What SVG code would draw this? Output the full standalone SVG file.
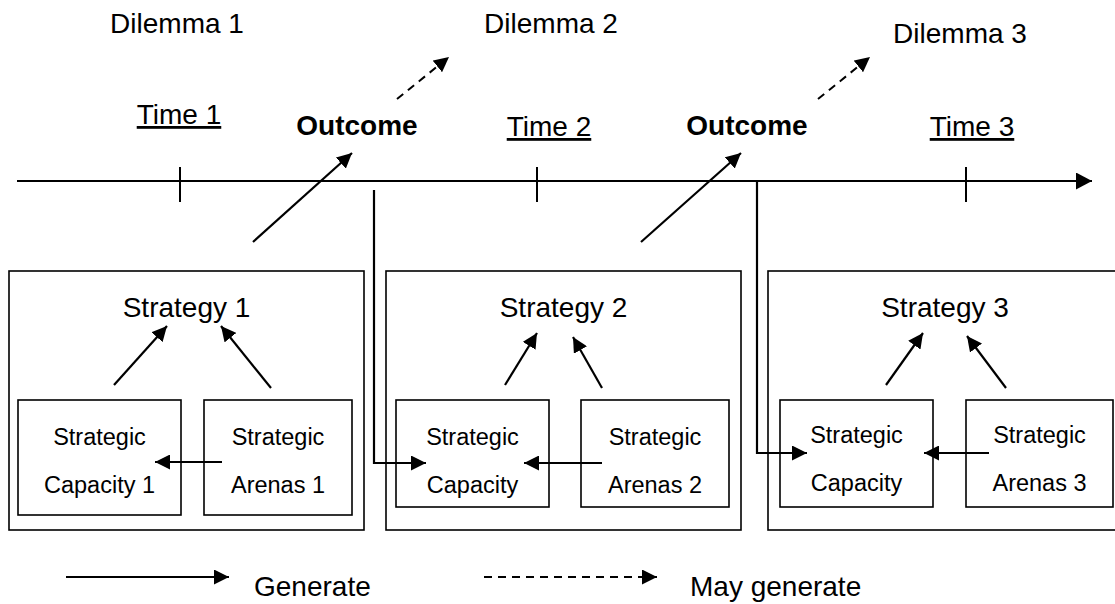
<svg xmlns="http://www.w3.org/2000/svg" width="1115" height="604" viewBox="0 0 1115 604">
<style>
text{font-family:"Liberation Sans",Arial,sans-serif;fill:#000}
.t{font-size:28px}
.s{font-size:23.5px}
.b{font-weight:bold}
.u{text-decoration:underline}
.box{fill:#fff;stroke:#000;stroke-width:1.6}
.ln{stroke:#000;stroke-width:2;fill:none}
.ar{stroke:#000;stroke-width:2.2;fill:none;marker-end:url(#ah)}
.da{stroke:#000;stroke-width:2;fill:none;stroke-dasharray:8 6;marker-end:url(#ah)}
</style>
<defs>
<marker id="ah" markerUnits="userSpaceOnUse" markerWidth="16" markerHeight="15" refX="15" refY="7.5" orient="auto"><path d="M0,0 L15,7.5 L0,15 z" fill="#000"/></marker>
<marker id="ahb" markerUnits="userSpaceOnUse" markerWidth="17" markerHeight="17" refX="16" refY="8.5" orient="auto"><path d="M0,0 L16,8.5 L0,17 z" fill="#000"/></marker>
</defs>
<rect width="1115" height="604" fill="#fff"/>
<g id="labels">
<text class="t" x="177" y="33" text-anchor="middle">Dilemma 1</text>
<text class="t" x="551" y="33" text-anchor="middle">Dilemma 2</text>
<text class="t" x="960" y="43" text-anchor="middle">Dilemma 3</text>
<text class="t u" x="179" y="124" text-anchor="middle">Time 1</text>
<text class="t b" x="357" y="135" text-anchor="middle">Outcome</text>
<text class="t u" x="549" y="136" text-anchor="middle">Time 2</text>
<text class="t b" x="747" y="135" text-anchor="middle">Outcome</text>
<text class="t u" x="972" y="136" text-anchor="middle">Time 3</text>
</g>
<g id="timeline">
<line class="ln" x1="17" y1="181" x2="1092" y2="181" stroke-width="2.5" marker-end="url(#ahb)"/>
<line class="ln" x1="180" y1="167" x2="180" y2="202"/>
<line class="ln" x1="537" y1="167" x2="537" y2="202"/>
<line class="ln" x1="966" y1="167" x2="966" y2="202"/>
</g>
<g id="strategy1">
<rect class="box" x="9" y="271" width="355" height="259"/>
<text class="t" x="186.5" y="317" text-anchor="middle">Strategy 1</text>
<g id="capacity1"><rect class="box" x="18" y="400" width="163" height="115"/>
<text class="s" x="99.5" y="445" text-anchor="middle">Strategic</text>
<text class="s" x="99.5" y="493" text-anchor="middle">Capacity 1</text></g>
<g id="arenas1"><rect class="box" x="204" y="400" width="148" height="115"/>
<text class="s" x="278" y="445" text-anchor="middle">Strategic</text>
<text class="s" x="278" y="493" text-anchor="middle">Arenas 1</text></g>
</g>
<g id="strategy2">
<rect class="box" x="386" y="271" width="355" height="259"/>
<text class="t" x="563.5" y="317" text-anchor="middle">Strategy 2</text>
<g id="capacity2"><rect class="box" x="396" y="400" width="153" height="107"/>
<text class="s" x="472.5" y="445" text-anchor="middle">Strategic</text>
<text class="s" x="472.5" y="493" text-anchor="middle">Capacity</text></g>
<g id="arenas2"><rect class="box" x="581" y="400" width="148" height="107"/>
<text class="s" x="655" y="445" text-anchor="middle">Strategic</text>
<text class="s" x="655" y="493" text-anchor="middle">Arenas 2</text></g>
</g>
<g id="strategy3">
<rect class="box" x="768" y="271" width="360" height="259"/>
<text class="t" x="945" y="317" text-anchor="middle">Strategy 3</text>
<g id="capacity3"><rect class="box" x="780" y="400" width="153" height="107"/>
<text class="s" x="856.5" y="443" text-anchor="middle">Strategic</text>
<text class="s" x="856.5" y="491" text-anchor="middle">Capacity</text></g>
<g id="arenas3"><rect class="box" x="966" y="400" width="147" height="107"/>
<text class="s" x="1039.5" y="443" text-anchor="middle">Strategic</text>
<text class="s" x="1039.5" y="491" text-anchor="middle">Arenas 3</text></g>
</g>
<g id="connectors">
<line class="da" x1="397" y1="99" x2="449" y2="57"/>
<line class="da" x1="818" y1="99" x2="870" y2="57"/>
<line class="ar" x1="253" y1="242" x2="352" y2="153"/>
<line class="ar" x1="641" y1="242" x2="741" y2="153"/>
<line class="ar" x1="114" y1="385" x2="167" y2="326"/>
<line class="ar" x1="271" y1="388" x2="221" y2="326"/>
<line class="ar" x1="222" y1="462" x2="155" y2="462"/>
<line class="ar" x1="505" y1="385" x2="537" y2="333"/>
<line class="ar" x1="602" y1="388" x2="573" y2="337"/>
<line class="ar" x1="602" y1="463" x2="524" y2="463"/>
<polyline class="ar" points="374,190 374,463 426,463"/>
<line class="ar" x1="886" y1="385" x2="923" y2="333"/>
<line class="ar" x1="1006" y1="388" x2="967" y2="336"/>
<line class="ar" x1="989" y1="453" x2="924" y2="453"/>
<polyline class="ar" points="757,181 757,453 807,453"/>
</g>
<g id="legend">
<line class="ar" x1="66" y1="577" x2="229" y2="577"/>
<text class="t" x="254" y="596">Generate</text>
<line class="da" x1="484" y1="577" x2="657" y2="577"/>
<text class="t" x="690" y="596">May generate</text>
</g>
</svg>
